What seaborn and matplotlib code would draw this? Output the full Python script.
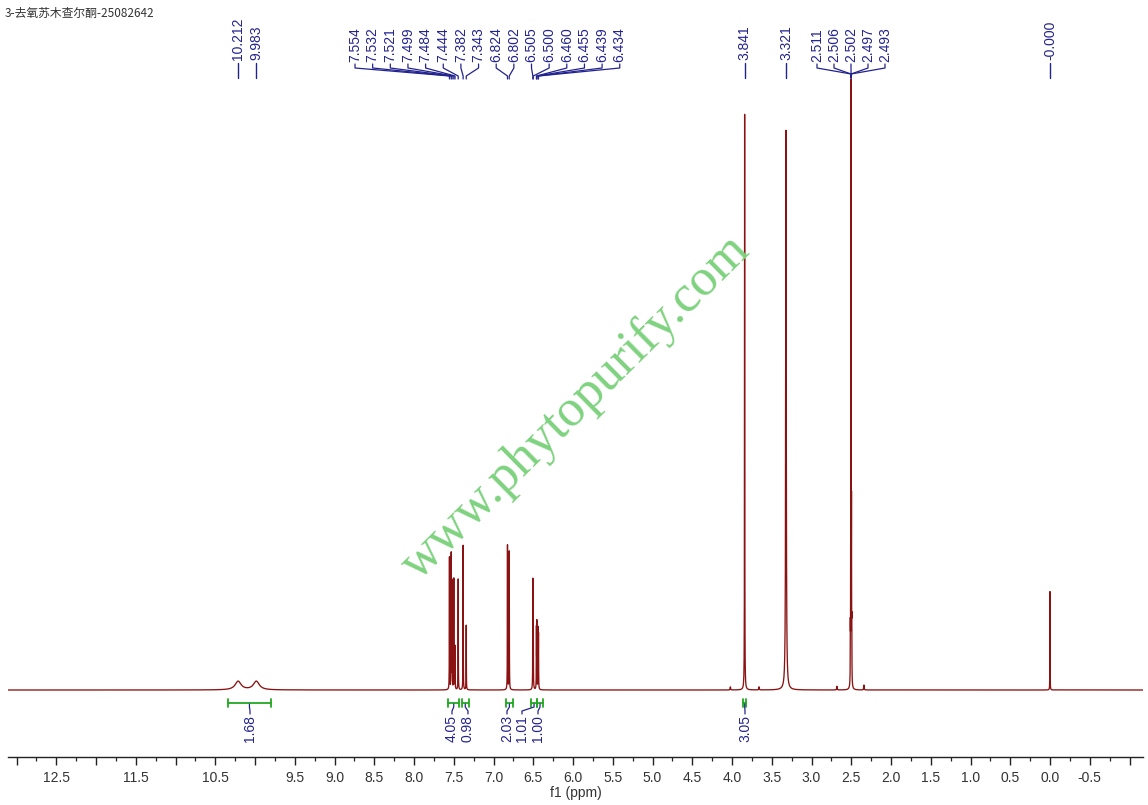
import numpy as np
import pandas as pd
import matplotlib
matplotlib.use("Agg")
import matplotlib.pyplot as plt
import seaborn as sns
from matplotlib.ticker import FixedLocator, FixedFormatter

# ---------------- data ----------------
title = "3-去氧苏木查尔酮-25082642"

peak_ppm = [10.212, 9.983, 7.554, 7.532, 7.521, 7.499, 7.484, 7.444, 7.382, 7.343,
            6.824, 6.802, 6.505, 6.500, 6.460, 6.455, 6.439, 6.434,
            4.02, 3.841, 3.66, 3.321, 2.68, 2.511, 2.506, 2.502, 2.497, 2.493, 2.34, 0.000]
peak_height = [1.4, 1.4, 21.5, 22.0, 17.5, 18.0, 7.0, 18.0, 23.5, 10.5,
               23.5, 22.5, 17.0, 14.0, 9.5, 10.5, 9.5, 8.5,
               0.5, 93.6, 0.5, 91.0, 0.6, 8.0, 25.0, 95.0, 25.0, 8.0, 0.8, 16.0]
peak_width = [0.045, 0.045, 0.0015, 0.0015, 0.0015, 0.0015, 0.0015, 0.0015, 0.0015, 0.0015,
              0.0016, 0.0016, 0.0015, 0.0015, 0.0015, 0.0015, 0.0015, 0.0015,
              0.003, 0.0016, 0.003, 0.004, 0.003, 0.0013, 0.0013, 0.0013, 0.0013, 0.0013, 0.003, 0.0012]

# single labels
single_labels = ["10.212", "9.983", "3.841", "3.321", "-0.000"]
single_label_ppm = [10.212, 9.983, 3.841, 3.321, 0.000]

# multiplet labels
multi_labels_a = ["7.554", "7.532", "7.521", "7.499", "7.484", "7.444", "7.382", "7.343",
                  "6.824", "6.802", "6.505", "6.500", "6.460", "6.455", "6.439", "6.434"]
multi_peaks_a = [7.554, 7.532, 7.521, 7.499, 7.484, 7.444, 7.382, 7.343,
                 6.824, 6.802, 6.505, 6.500, 6.460, 6.455, 6.439, 6.434]
multi_labels_b = ["2.511", "2.506", "2.502", "2.497", "2.493"]
multi_peaks_b = [2.502, 2.502, 2.502, 2.502, 2.502]

# integrations
integ_values = ["1.68", "4.05", "0.98", "2.03", "1.01", "1.00", "3.05"]
integ_from = [10.34, 7.57, 7.40, 6.84, 6.53, 6.45, 3.86]
integ_to = [9.80, 7.43, 7.31, 6.76, 6.45, 6.38, 3.82]
integ_label_px = [250, 452, 468, 507, 522, 538, 745]

tick_values = [13.0, 12.5, 12.0, 11.5, 11.0, 10.5, 10.0, 9.5, 9.0, 8.5, 8.0, 7.5, 7.0,
               6.5, 6.0, 5.5, 5.0, 4.5, 4.0, 3.5, 3.0, 2.5, 2.0, 1.5, 1.0, 0.5, 0.0, -0.5, -1.0]
tick_labels = ["", "12.5", "", "11.5", "", "10.5", "", "9.5", "9.0", "8.5", "8.0", "7.5", "7.0",
               "6.5", "6.0", "5.5", "5.0", "4.5", "4.0", "3.5", "3.0", "2.5", "2.0", "1.5", "1.0",
               "0.5", "0.0", "-0.5", ""]

# ---------------- build spectrum ----------------
ppm = np.arange(-1.2, 13.15, 0.0002)
inten = np.zeros_like(ppm)
for c, h, g in zip(peak_ppm, peak_height, peak_width):
    inten += h * g**2 / ((ppm - c) ** 2 + g**2)
df = pd.DataFrame({"ppm": ppm, "intensity": inten})

# ---------------- figure ----------------
sns.set_theme(style="white")
plt.rcParams["font.family"] = ["Liberation Sans", "DejaVu Sans"]

W, H = 1148, 805
fig = plt.figure(figsize=(W / 100, H / 100), dpi=100)
ax = fig.add_axes([8 / W, 48 / H, (1143 - 8) / W, 1 - 48 / H])

X0, SCALE = 1050.0, 79.5     # pixel of 0 ppm, px per ppm
Y0, YS = 690.0, 6.15          # baseline pixel, px per unit


def px2ppm(x):
    return (X0 - x) / SCALE


def py2val(y):
    return (Y0 - y) / YS


ax.set_xlim(px2ppm(8), px2ppm(1143))
ax.set_ylim(py2val(757), py2val(0))

spec_color = "#8B1212"
sns.lineplot(data=df, x="ppm", y="intensity", ax=ax, estimator=None, sort=False,
             color=spec_color, linewidth=0.95, zorder=3)

label_color = "#23238F"
green = "#22A822"

# single peak labels
for txt, p in zip(single_labels, single_label_ppm):
    ax.plot([p, p], [py2val(63), py2val(78)], color=label_color, lw=1.0, zorder=4)
    ax.text(p, py2val(60), txt, rotation=90, ha="center", va="bottom",
            color=label_color, fontsize=10)

# multiplet group A (aromatic)
for i, (txt, p) in enumerate(zip(multi_labels_a, multi_peaks_a)):
    lx = px2ppm(355 + 17.65 * i)
    ax.plot([lx, lx, p, p], [py2val(64), py2val(68), py2val(76), py2val(79)],
            color=label_color, lw=0.9, zorder=4)
    ax.text(lx, py2val(62), txt, rotation=90, ha="center", va="bottom",
            color=label_color, fontsize=10)

# multiplet group B (DMSO)
for i, (txt, p) in enumerate(zip(multi_labels_b, multi_peaks_b)):
    lx = px2ppm(817 + 17.0 * i)
    ax.plot([lx, lx, p, p], [py2val(64), py2val(68), py2val(74), py2val(78)],
            color=label_color, lw=0.9, zorder=4)
    ax.text(lx, py2val(62), txt, rotation=90, ha="center", va="bottom",
            color=label_color, fontsize=10)

# integrations
for val, a, b, lpx in zip(integ_values, integ_from, integ_to, integ_label_px):
    yb = py2val(703)
    ax.plot([a, b], [yb, yb], color=green, lw=1.3, zorder=4)
    for e in (a, b):
        ax.plot([e, e], [py2val(699), py2val(707)], color=green, lw=1.3, zorder=4)
    c = (a + b) / 2
    lx = px2ppm(lpx)
    ax.plot([c, c, lx, lx], [py2val(704), py2val(707), py2val(711), py2val(714)],
            color=label_color, lw=0.9, zorder=4)
    ax.text(lx, py2val(715), val, rotation=90, ha="center", va="top",
            color=label_color, fontsize=10)

# axes styling
for s in ("top", "left", "right"):
    ax.spines[s].set_visible(False)
ax.spines["bottom"].set_color("#222222")
ax.spines["bottom"].set_linewidth(1.0)
ax.set_yticks([])
ax.xaxis.set_major_locator(FixedLocator(tick_values))
ax.xaxis.set_major_formatter(FixedFormatter(tick_labels))
minor = [t - 0.25 for t in tick_values[:-1]]
ax.xaxis.set_minor_locator(FixedLocator(minor))
ax.tick_params(axis="x", which="major", direction="out", length=6, width=1.0,
               color="#222222", labelsize=10, labelcolor="#333333", pad=4, bottom=True)
ax.tick_params(axis="x", which="minor", direction="out", length=3, width=0.9,
               color="#222222", bottom=True)
ax.set_xlabel("f1 (ppm)", fontsize=10, color="#333333", labelpad=1)
ax.set_ylabel("")

# title
fig.text(5 / W, 1 - 13 / H, title, ha="left", va="center", fontsize=8.5,
         color="#333333", family=["Noto Sans CJK SC", "DejaVu Sans"])

# watermark
fig.text(576 / W, 1 - 407 / H, "www.phytopurify.com", ha="center", va="center",
         rotation=44.6, fontsize=37.5, color="#7ED27E", family=["Liberation Serif", "DejaVu Serif"],
         zorder=1)

fig.savefig("out.png", dpi=100)
